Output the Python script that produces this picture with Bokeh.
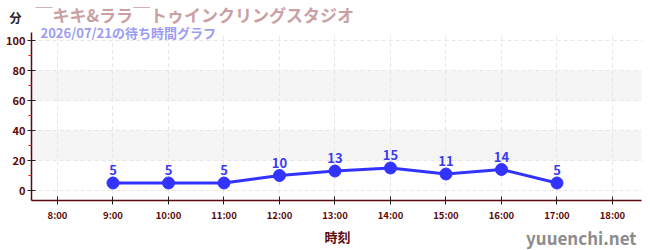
from bokeh.plotting import figure
from bokeh.models import (ColumnDataSource, FixedTicker, BoxAnnotation, Label, LabelSet,
                          LinearAxis, Grid, Range1d)
from bokeh.core.properties import value
from bokeh.embed import file_html
from bokeh.resources import INLINE

hours = [9, 10, 11, 12, 13, 14, 15, 16, 17]
waits = [5, 5, 5, 10, 13, 15, 11, 14, 5]
x_ticks = [8, 9, 10, 11, 12, 13, 14, 15, 16, 17, 18]
x_tick_labels = [f"{h}:00" for h in x_ticks]
y_ticks = [0, 20, 40, 60, 80, 100]
y_minor = [10, 30, 50, 70, 90]
bands = [(20, 40), (60, 80)]
title = "￣キキ&ララ￣トゥインクリングスタジオ"
subtitle = "2026/07/21の待ち時間グラフ"
x_label = "時刻"
y_unit = "分"
site = "yuuenchi.net"

# plot-area extent in data units
X0, X1 = 7.532, 18.52
Y0, Y1 = -6.67, 105.33

FONT = "Noto Sans CJK JP"
AX = "#5a0a0a"

src = ColumnDataSource(dict(x=hours, y=waits, t=[str(v) for v in waits]))

p = figure(width=650, height=250, output_backend="svg", toolbar_location=None,
           x_axis_type=None, y_axis_type=None,
           x_range=Range1d(6.973, 18.685), y_range=Range1d(-40, 126.67),
           min_border=0)
p.outline_line_color = None
p.background_fill_color = "white"

for b, t in bands:
    p.add_layout(BoxAnnotation(bottom=b, top=t, left=X0, right=X1, fill_color="#f5f5f5",
                               fill_alpha=1, line_color=None, level="underlay"))

gx = Grid(dimension=0, ticker=FixedTicker(ticks=x_ticks), cross_bounds=(Y0, Y1),
          grid_line_color="#e6e6e6", grid_line_dash="4 3")
gy = Grid(dimension=1, ticker=FixedTicker(ticks=y_ticks), cross_bounds=(X0, X1),
          grid_line_color="#e6e6e6", grid_line_dash="4 3")
p.add_layout(gx, "center")
p.add_layout(gy, "center")

xaxis = LinearAxis(fixed_location=Y0, bounds=(X0, X1), ticker=FixedTicker(ticks=x_ticks))
xaxis.major_label_overrides = {h: l for h, l in zip(x_ticks, x_tick_labels)}
yaxis = LinearAxis(fixed_location=X0, bounds=(Y0, Y1),
                   ticker=FixedTicker(ticks=y_ticks, minor_ticks=y_minor))

for ax in (xaxis, yaxis):
    ax.axis_line_color = AX
    ax.axis_line_width = 1.5
    ax.major_tick_line_color = "#222"
    ax.major_tick_in = 4
    ax.major_tick_out = 4
    ax.major_label_text_font = FONT
    ax.major_label_text_font_style = "bold"
    ax.major_label_text_color = AX
xaxis.major_label_text_font_size = "9.5px"
xaxis.major_label_standoff = 3
xaxis.minor_tick_line_color = None
yaxis.major_label_text_font_size = "11px"
yaxis.minor_tick_line_color = "#dd2222"
yaxis.minor_tick_in = 0
yaxis.minor_tick_out = 3
yaxis.major_label_standoff = 2
p.add_layout(xaxis, "below")
p.add_layout(yaxis, "left")

p.line("x", "y", source=src, line_color="#3333ff", line_width=3)
p.scatter("x", "y", source=src, size=12, fill_color="#3333ff", line_color="#3333ff")
p.add_layout(LabelSet(x="x", y="y", text="t", source=src, x_offset=0, y_offset=8,
                      text_align="center", text_font=value(FONT), text_font_style="bold",
                      text_font_size="13px", text_color="#3b3bf0"))

def canvas_label(x, y, text, size, color, align="left"):
    p.add_layout(Label(x=x, y=y, x_units="canvas", y_units="canvas", text=text,
                       text_align=align, text_baseline="middle", text_font=FONT,
                       text_font_style="bold", text_font_size=size, text_color=color))

canvas_label(35, 14, title, "17px", "#c9a0a3")
canvas_label(40, 32, subtitle, "13px", "#9c9cf5")
canvas_label(9, 17, y_unit, "12px", "#222222")
canvas_label(337, 236, x_label, "13px", AX, "center")
canvas_label(636, 237, site, "17px", "#8c8c8c", "right")

open("out.html", "w").write(file_html(p, INLINE))
